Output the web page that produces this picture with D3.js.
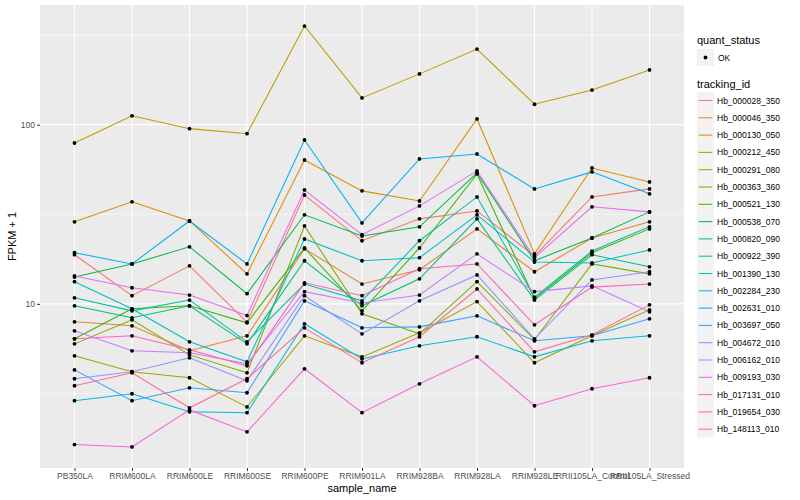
<!DOCTYPE html>
<html>
<head>
<meta charset="utf-8">
<script src="https://cdn.jsdelivr.net/npm/d3@7"></script>
<style>
  body { margin: 0; background: #fff; }
  svg { font-family: "Liberation Sans", Arial, sans-serif; }
</style>
</head>
<body>
<svg width="800" height="500"></svg>
<script>
var samples = ["PB350LA", "RRIM600LA", "RRIM600LE", "RRIM600SE", "RRIM600PE", "RRIM901LA",
  "RRIM928BA", "RRIM928LA", "RRIM928LE", "RRII105LA_Control", "RRII105LA_Stressed"];

var trackingIds = ["Hb_000028_350", "Hb_000046_350", "Hb_000130_050", "Hb_000212_450", "Hb_000291_080",
  "Hb_000363_360", "Hb_000521_130", "Hb_000538_070", "Hb_000820_090", "Hb_000922_390",
  "Hb_001390_130", "Hb_002284_230", "Hb_002631_010", "Hb_003697_050", "Hb_004672_010",
  "Hb_006162_010", "Hb_009193_030", "Hb_017131_010", "Hb_019654_030", "Hb_148113_010"];

// FPKM + 1, one array per tracking_id, in sample order
var hb000028 = [18.8, 11.1, 16.3, 7.9, 40.5, 22.5, 29.8, 33.0, 18.5, 39.5, 43.8];
var hb000046 = [7.94, 7.54, 5.47, 6.63, 20.3, 12.9, 15.5, 26.2, 15.1, 23.3, 28.7];
var hb000130 = [28.7, 37.1, 29.0, 14.7, 63.5, 42.7, 37.5, 107.6, 19.0, 57.3, 47.9];
var hb000212 = [79, 112, 95, 89, 355, 141, 192, 264, 130, 156, 202];
var hb000291 = [5.13, 4.18, 3.87, 2.66, 6.63, 5.06, 6.89, 10.3, 4.69, 6.63, 9.26];
var hb000363 = [5.98, 8.14, 5.19, 4.12, 27.2, 8.80, 6.80, 13.3, 6.30, 16.7, 14.7];
var hb000521 = [6.38, 9.38, 9.75, 7.84, 20.5, 9.14, 20.5, 53.1, 10.7, 19.3, 26.2];
var hb000538 = [14.1, 16.7, 20.8, 11.4, 31.4, 23.9, 26.9, 53.8, 17.4, 23.3, 32.6];
var hb000820 = [9.75, 8.36, 9.75, 5.98, 17.4, 9.75, 13.8, 29.8, 10.5, 18.8, 16.1];
var hb000922 = [10.8, 9.14, 10.5, 6.14, 12.9, 10.4, 22.5, 39.5, 10.9, 19.7, 26.9];
var hb001390 = [13.3, 9.38, 6.14, 4.75, 23.0, 17.4, 18.1, 31.4, 17.1, 16.9, 20.0];
var hb002284 = [2.88, 3.15, 2.50, 2.47, 7.74, 4.93, 5.83, 6.55, 5.06, 6.22, 6.63];
var hb002631 = [19.3, 16.7, 29.0, 16.7, 82.1, 28.3, 64.4, 68.6, 43.8, 54.5, 41.1];
var hb003697 = [4.28, 2.88, 3.40, 3.19, 10.4, 7.35, 7.44, 8.57, 6.22, 6.63, 8.25];
var hb004672 = [3.82, 4.18, 5.00, 3.72, 11.1, 6.80, 10.4, 14.5, 6.38, 13.6, 15.1];
var hb006162 = [7.07, 5.47, 5.33, 4.63, 11.7, 10.1, 11.2, 19.0, 11.7, 12.6, 9.03];
var hb009193 = [14.3, 12.3, 11.2, 8.6, 43.2, 24.3, 35.2, 55.2, 18.1, 34.8, 32.6];
var hb017131 = [1.64, 1.59, 2.56, 1.93, 4.34, 2.47, 3.58, 5.06, 2.70, 3.36, 3.87];
var hb019654 = [6.38, 6.63, 5.54, 4.51, 13.1, 11.1, 15.7, 16.7, 7.64, 12.4, 12.9];
var hb148113 = [3.49, 4.12, 2.63, 3.82, 7.35, 4.69, 6.55, 12.1, 5.40, 6.72, 9.87];

var seriesValues = [hb000028, hb000046, hb000130, hb000212, hb000291, hb000363, hb000521,
  hb000538, hb000820, hb000922, hb001390, hb002284, hb002631, hb003697, hb004672,
  hb006162, hb009193, hb017131, hb019654, hb148113];

var colors = ["#F8766D", "#EA8331", "#D89000", "#C09B00", "#A3A500", "#7CAE00", "#39B600",
  "#00BB4E", "#00BF7D", "#00C1A3", "#00BFC4", "#00BAE0", "#00B0F6", "#35A2FF", "#9590FF",
  "#C77CFF", "#E76BF3", "#FA62DB", "#FF62BC", "#FF6C91"];

var yBreaks = [10, 100];
var yMinor = [Math.sqrt(10), Math.sqrt(1000), Math.sqrt(100000)];

var svg = d3.select("svg");
var panel = { left: 40, right: 684, top: 5, bottom: 468 };

var x = d3.scalePoint()
  .domain(samples)
  .range([panel.left, panel.right])
  .padding(0.6);

// log scale with ggplot-style 5% expansion
var all = d3.merge(seriesValues);
var lo = Math.log10(d3.min(all)), hi = Math.log10(d3.max(all));
var pad = (hi - lo) * 0.05;
var y = d3.scaleLog()
  .domain([Math.pow(10, lo - pad), Math.pow(10, hi + pad)])
  .range([panel.bottom, panel.top]);

svg.append("rect")
  .attr("x", panel.left).attr("y", panel.top)
  .attr("width", panel.right - panel.left).attr("height", panel.bottom - panel.top)
  .attr("fill", "#EBEBEB");

svg.selectAll(".minor").data(yMinor).enter().append("line")
  .attr("x1", panel.left).attr("x2", panel.right)
  .attr("y1", function(d) { return y(d); }).attr("y2", function(d) { return y(d); })
  .attr("stroke", "#fff").attr("stroke-width", 0.55);

svg.selectAll(".major").data(yBreaks).enter().append("line")
  .attr("x1", panel.left).attr("x2", panel.right)
  .attr("y1", function(d) { return y(d); }).attr("y2", function(d) { return y(d); })
  .attr("stroke", "#fff").attr("stroke-width", 1.1);

svg.selectAll(".vgrid").data(samples).enter().append("line")
  .attr("x1", function(d) { return x(d); }).attr("x2", function(d) { return x(d); })
  .attr("y1", panel.top).attr("y2", panel.bottom)
  .attr("stroke", "#fff").attr("stroke-width", 1.1);

var line = d3.line()
  .x(function(d, i) { return x(samples[i]); })
  .y(function(d) { return y(d); });

svg.selectAll(".series").data(seriesValues).enter().append("path")
  .attr("d", line)
  .attr("fill", "none")
  .attr("stroke", function(d, i) { return colors[i]; })
  .attr("stroke-width", 1.05);

seriesValues.forEach(function(vals) {
  svg.append("g").selectAll("circle").data(vals).enter().append("circle")
    .attr("cx", function(d, i) { return x(samples[i]); })
    .attr("cy", function(d) { return y(d); })
    .attr("r", 1.9)
    .attr("fill", "#000");
});

// axes
var xAxis = svg.append("g")
  .attr("transform", "translate(0," + panel.bottom + ")")
  .call(d3.axisBottom(x).tickSize(3).tickPadding(2));
var yAxis = svg.append("g")
  .attr("transform", "translate(" + panel.left + ",0)")
  .call(d3.axisLeft(y).tickValues(yBreaks).tickFormat(d3.format("d")).tickSize(3).tickPadding(2));

[xAxis, yAxis].forEach(function(a) {
  a.select(".domain").remove();
  a.selectAll(".tick line").attr("stroke", "#333").attr("stroke-width", 1);
  a.selectAll(".tick text").attr("fill", "#4D4D4D").attr("font-size", "8.5px")
    .attr("font-family", "Liberation Sans, Arial, sans-serif");
});

svg.append("text")
  .attr("x", (panel.left + panel.right) / 2).attr("y", 492)
  .attr("text-anchor", "middle").attr("font-size", "11px").attr("fill", "#000")
  .text("sample_name");

svg.append("text")
  .attr("transform", "translate(16," + (panel.top + panel.bottom) / 2 + ") rotate(-90)")
  .attr("text-anchor", "middle").attr("font-size", "11px").attr("fill", "#000")
  .text("FPKM + 1");

// legends
var lg = svg.append("g").attr("transform", "translate(697,0)");
lg.append("text").attr("x", 0).attr("y", 44).attr("font-size", "11px").text("quant_status");
lg.append("rect").attr("x", 0).attr("y", 49).attr("width", 17).attr("height", 17).attr("fill", "#F2F2F2");
lg.append("circle").attr("cx", 8.5).attr("cy", 57.5).attr("r", 1.9).attr("fill", "#000");
lg.append("text").attr("x", 21).attr("y", 60.5).attr("font-size", "8.5px").text("OK");

lg.append("text").attr("x", 0).attr("y", 88).attr("font-size", "11px").text("tracking_id");

var items = lg.selectAll(".item").data(trackingIds).enter().append("g")
  .attr("transform", function(d, i) { return "translate(0," + (92 + i * 17.3) + ")"; });
items.append("rect").attr("width", 17).attr("height", 17).attr("fill", "#F2F2F2");
items.append("line")
  .attr("x1", 1.7).attr("x2", 15.3).attr("y1", 8.5).attr("y2", 8.5)
  .attr("stroke", function(d, i) { return colors[i]; }).attr("stroke-width", 1.05);
items.append("text").attr("x", 20).attr("y", 11.5).attr("font-size", "8.5px")
  .text(function(d) { return d; });
</script>
</body>
</html>
